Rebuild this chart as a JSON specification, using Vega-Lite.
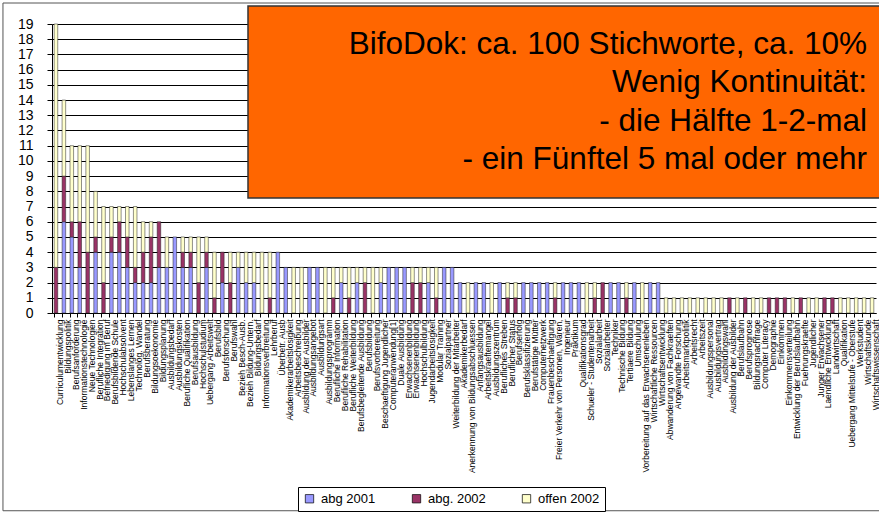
{
  "$schema": "https://vega.github.io/schema/vega-lite/v6.json",
  "width": 827,
  "height": 289,
  "autosize": "none",
  "padding": {"left": 52, "top": 24, "right": 0, "bottom": 201},
  "background": "white",
  "config": {
    "view": {"stroke": null},
    "font": "Liberation Sans",
    "axis": {"labelFont": "Liberation Sans", "labelColor": "black", "domainColor": "black", "tickColor": "black", "title": null},
    "legend": {"labelFont": "Liberation Sans", "labelColor": "black"}
  },
  "datasets": {
    "counts": [
      {"k": "Curriculumentwicklung", "abg 2001": 0, "abg. 2002": 3, "offen 2002": 16},
      {"k": "Bildungspolitik", "abg 2001": 6, "abg. 2002": 3, "offen 2002": 5},
      {"k": "Berufsanforderung", "abg 2001": 5, "abg. 2002": 1, "offen 2002": 5},
      {"k": "Informationstechnologie", "abg 2001": 3, "abg. 2002": 3, "offen 2002": 5},
      {"k": "Neue Technologien", "abg 2001": 0, "abg. 2002": 4, "offen 2002": 7},
      {"k": "Berufliche Integration", "abg 2001": 4, "abg. 2002": 1, "offen 2002": 3},
      {"k": "Befriedigung im Beruf", "abg 2001": 0, "abg. 2002": 2, "offen 2002": 5},
      {"k": "Berufsbildende Schule", "abg 2001": 4, "abg. 2002": 1, "offen 2002": 2},
      {"k": "Hochschulabsolvent", "abg 2001": 4, "abg. 2002": 2, "offen 2002": 1},
      {"k": "Lebenslanges Lernen", "abg 2001": 3, "abg. 2002": 2, "offen 2002": 2},
      {"k": "Technolog. Wandel", "abg 2001": 2, "abg. 2002": 1, "offen 2002": 4},
      {"k": "Berufsberatung", "abg 2001": 2, "abg. 2002": 2, "offen 2002": 2},
      {"k": "Bildungsoekonomie", "abg 2001": 2, "abg. 2002": 3, "offen 2002": 1},
      {"k": "Bildungsplanung", "abg 2001": 3, "abg. 2002": 3, "offen 2002": 0},
      {"k": "Ausbildungsbedarf", "abg 2001": 3, "abg. 2002": 0, "offen 2002": 2},
      {"k": "Ausbildungskosten", "abg 2001": 5, "abg. 2002": 0, "offen 2002": 0},
      {"k": "Berufliche Qualifikation", "abg 2001": 3, "abg. 2002": 1, "offen 2002": 1},
      {"k": "Berufsausbildung", "abg 2001": 3, "abg. 2002": 1, "offen 2002": 1},
      {"k": "Hochschulstudium", "abg 2001": 0, "abg. 2002": 2, "offen 2002": 3},
      {"k": "Uebergang Arbeitswelt", "abg 2001": 3, "abg. 2002": 1, "offen 2002": 1},
      {"k": "Berufsbild", "abg 2001": 0, "abg. 2002": 1, "offen 2002": 3},
      {"k": "Berufsforschung", "abg 2001": 2, "abg. 2002": 2, "offen 2002": 0},
      {"k": "Berufswahl", "abg 2001": 0, "abg. 2002": 2, "offen 2002": 2},
      {"k": "Bezieh Besch-Ausb.", "abg 2001": 3, "abg. 2002": 0, "offen 2002": 1},
      {"k": "Bezieh Bildung-Untern.", "abg 2001": 2, "abg. 2002": 0, "offen 2002": 2},
      {"k": "Bildungsbedarf", "abg 2001": 2, "abg. 2002": 0, "offen 2002": 2},
      {"k": "Informationsverbreitung", "abg 2001": 0, "abg. 2002": 0, "offen 2002": 4},
      {"k": "Lehrberuf", "abg 2001": 0, "abg. 2002": 1, "offen 2002": 3},
      {"k": "Überbetr. Ausb", "abg 2001": 4, "abg. 2002": 0, "offen 2002": 0},
      {"k": "Akademikerarbeitslosigkeit", "abg 2001": 3, "abg. 2002": 0, "offen 2002": 0},
      {"k": "Arbeitsbeschreibung", "abg 2001": 0, "abg. 2002": 0, "offen 2002": 3},
      {"k": "Ausbildung der Ausbilder", "abg 2001": 0, "abg. 2002": 0, "offen 2002": 3},
      {"k": "Ausbildungsangebot", "abg 2001": 3, "abg. 2002": 0, "offen 2002": 0},
      {"k": "Ausbildungsart", "abg 2001": 3, "abg. 2002": 0, "offen 2002": 0},
      {"k": "Ausbildungsprogramm", "abg 2001": 0, "abg. 2002": 0, "offen 2002": 3},
      {"k": "Berufliche Information", "abg 2001": 0, "abg. 2002": 1, "offen 2002": 2},
      {"k": "Berufliche Rehabilitation", "abg 2001": 2, "abg. 2002": 0, "offen 2002": 1},
      {"k": "Berufliche Weiterbildung", "abg 2001": 0, "abg. 2002": 1, "offen 2002": 2},
      {"k": "Berufsbegleitende Ausbildung", "abg 2001": 2, "abg. 2002": 0, "offen 2002": 1},
      {"k": "Berufsbildung", "abg 2001": 0, "abg. 2002": 2, "offen 2002": 1},
      {"k": "Berufsvorbereitung", "abg 2001": 0, "abg. 2002": 0, "offen 2002": 3},
      {"k": "Beschaeftigung Jugendlicher", "abg 2001": 2, "abg. 2002": 0, "offen 2002": 1},
      {"k": "Computeranwendung[1]", "abg 2001": 3, "abg. 2002": 0, "offen 2002": 0},
      {"k": "Duale Ausbildung", "abg 2001": 3, "abg. 2002": 0, "offen 2002": 0},
      {"k": "Erwachsenenbildung", "abg 2001": 3, "abg. 2002": 0, "offen 2002": 0},
      {"k": "Erwachsenenbildung ", "abg 2001": 0, "abg. 2002": 2, "offen 2002": 1},
      {"k": "Hochschulbildung", "abg 2001": 0, "abg. 2002": 2, "offen 2002": 1},
      {"k": "Jugendarbeitslosigkeit", "abg 2001": 2, "abg. 2002": 0, "offen 2002": 1},
      {"k": "Modular Training", "abg 2001": 0, "abg. 2002": 1, "offen 2002": 2},
      {"k": "Sozialpartner", "abg 2001": 3, "abg. 2002": 0, "offen 2002": 0},
      {"k": "Weiterbildung der Mitarbeiter", "abg 2001": 3, "abg. 2002": 0, "offen 2002": 0},
      {"k": "Akademikerbedarf", "abg 2001": 2, "abg. 2002": 0, "offen 2002": 0},
      {"k": "Anerkennung von Bildungsabschluessen", "abg 2001": 0, "abg. 2002": 0, "offen 2002": 2},
      {"k": "Anfangsausbildung", "abg 2001": 2, "abg. 2002": 0, "offen 2002": 0},
      {"k": "Arbeitskraeftemangel", "abg 2001": 2, "abg. 2002": 0, "offen 2002": 0},
      {"k": "Ausbildungszentrum", "abg 2001": 0, "abg. 2002": 0, "offen 2002": 2},
      {"k": "Berufliches Streben", "abg 2001": 2, "abg. 2002": 0, "offen 2002": 0},
      {"k": "Beruflicher Status", "abg 2001": 0, "abg. 2002": 1, "offen 2002": 1},
      {"k": "Berufserfolg", "abg 2001": 0, "abg. 2002": 1, "offen 2002": 1},
      {"k": "Berufsklassifizierung", "abg 2001": 2, "abg. 2002": 0, "offen 2002": 0},
      {"k": "Berufstätige Mütter", "abg 2001": 2, "abg. 2002": 0, "offen 2002": 0},
      {"k": "Computernetzwerk", "abg 2001": 2, "abg. 2002": 0, "offen 2002": 0},
      {"k": "Frauenbeschaeftigung", "abg 2001": 2, "abg. 2002": 0, "offen 2002": 0},
      {"k": "Freier Verkehr von Personen, Waren,", "abg 2001": 0, "abg. 2002": 1, "offen 2002": 1},
      {"k": "Ingenieur", "abg 2001": 2, "abg. 2002": 0, "offen 2002": 0},
      {"k": "Praktikum", "abg 2001": 2, "abg. 2002": 0, "offen 2002": 0},
      {"k": "Qualifikationsgrad", "abg 2001": 2, "abg. 2002": 0, "offen 2002": 0},
      {"k": "Schueler - Studentenarbeit", "abg 2001": 0, "abg. 2002": 0, "offen 2002": 2},
      {"k": "Sozialarbeit", "abg 2001": 0, "abg. 2002": 1, "offen 2002": 1},
      {"k": "Sozialarbeiter", "abg 2001": 0, "abg. 2002": 2, "offen 2002": 0},
      {"k": "Techniker", "abg 2001": 2, "abg. 2002": 0, "offen 2002": 0},
      {"k": "Technische Bildung", "abg 2001": 2, "abg. 2002": 0, "offen 2002": 0},
      {"k": "Tertiaere Bildung", "abg 2001": 0, "abg. 2002": 1, "offen 2002": 1},
      {"k": "Umschulung", "abg 2001": 2, "abg. 2002": 0, "offen 2002": 0},
      {"k": "Vorbereitung auf das Erwachsenenleben", "abg 2001": 0, "abg. 2002": 0, "offen 2002": 2},
      {"k": "Wirtschaftliche Ressourcen", "abg 2001": 2, "abg. 2002": 0, "offen 2002": 0},
      {"k": "Wirtschaftsentwicklung", "abg 2001": 2, "abg. 2002": 0, "offen 2002": 0},
      {"k": "Abwanderung von Fachkraeften", "abg 2001": 0, "abg. 2002": 0, "offen 2002": 1},
      {"k": "Angewandte Forschung", "abg 2001": 0, "abg. 2002": 0, "offen 2002": 1},
      {"k": "Arbeitsmarktpolitik", "abg 2001": 0, "abg. 2002": 0, "offen 2002": 1},
      {"k": "Arbeitsrecht", "abg 2001": 0, "abg. 2002": 0, "offen 2002": 1},
      {"k": "Arbeitszeit", "abg 2001": 0, "abg. 2002": 0, "offen 2002": 1},
      {"k": "Ausbildungspersonal", "abg 2001": 0, "abg. 2002": 0, "offen 2002": 1},
      {"k": "Ausbildungsvertrag", "abg 2001": 0, "abg. 2002": 0, "offen 2002": 1},
      {"k": "Ausbildungswahl", "abg 2001": 0, "abg. 2002": 0, "offen 2002": 1},
      {"k": "Ausbildung der Ausbilder ", "abg 2001": 0, "abg. 2002": 1, "offen 2002": 0},
      {"k": "Berufslaufbahn", "abg 2001": 0, "abg. 2002": 0, "offen 2002": 1},
      {"k": "Berufsprognose", "abg 2001": 0, "abg. 2002": 1, "offen 2002": 0},
      {"k": "Bildungsnachfrage", "abg 2001": 0, "abg. 2002": 0, "offen 2002": 1},
      {"k": "Computer Literacy", "abg 2001": 0, "abg. 2002": 0, "offen 2002": 1},
      {"k": "Demographie", "abg 2001": 0, "abg. 2002": 1, "offen 2002": 0},
      {"k": "Einkommen", "abg 2001": 0, "abg. 2002": 1, "offen 2002": 0},
      {"k": "Einkommensverteilung", "abg 2001": 0, "abg. 2002": 1, "offen 2002": 0},
      {"k": "Entwicklung der Berufslaufbahn", "abg 2001": 0, "abg. 2002": 0, "offen 2002": 1},
      {"k": "Fuehrungskraefte", "abg 2001": 0, "abg. 2002": 1, "offen 2002": 0},
      {"k": "Jugendlicher", "abg 2001": 0, "abg. 2002": 0, "offen 2002": 1},
      {"k": "Junger Erwachsener", "abg 2001": 0, "abg. 2002": 0, "offen 2002": 1},
      {"k": "Laendliche Entwicklung", "abg 2001": 0, "abg. 2002": 1, "offen 2002": 0},
      {"k": "Landwirtschaft", "abg 2001": 0, "abg. 2002": 1, "offen 2002": 0},
      {"k": "Qualifikation", "abg 2001": 0, "abg. 2002": 0, "offen 2002": 1},
      {"k": "Uebergang Mittelstufe - Oberstufe", "abg 2001": 0, "abg. 2002": 0, "offen 2002": 1},
      {"k": "Werkstudent", "abg 2001": 0, "abg. 2002": 0, "offen 2002": 1},
      {"k": "Wirtschaftskunde", "abg 2001": 0, "abg. 2002": 0, "offen 2002": 1},
      {"k": "Wirtschaftswissenschaft", "abg 2001": 0, "abg. 2002": 0, "offen 2002": 1}
    ],
    "note": [
      {"text": "BifoDok: ca. 100 Stichworte, ca. 10%\nWenig Kontinuität:\n- die Hälfte 1-2-mal\n- ein Fünftel 5 mal oder mehr"}
    ]
  },
  "resolve": {"scale": {"x": "independent", "y": "independent"}},
  "layer": [
    {
      "data": {"name": "counts"},
      "transform": [
        {"fold": ["abg 2001", "abg\\. 2002", "offen 2002"], "as": ["s", "v"]},
        {"filter": "datum.v > 0"}
      ],
      "mark": {"type": "bar", "stroke": "#222", "strokeWidth": 0.5},
      "encoding": {
        "x": {
          "field": "k", "type": "nominal", "sort": null,
          "scale": {"range": [0, 824], "paddingInner": 0.55, "paddingOuter": 0.275},
          "axis": {"labelAngle": -90, "labelFontSize": 8.5, "labelPadding": 2, "tickSize": 4, "bandPosition": 0, "labelOffset": 3.96, "labelOverlap": false, "labelLimit": 300, "labelBound": false, "title": null}
        },
        "y": {
          "field": "v", "type": "quantitative", "stack": "zero",
          "scale": {"domain": [0, 19], "nice": false},
          "axis": {"values": [0,1,2,3,4,5,6,7,8,9,10,11,12,13,14,15,16,17,18,19], "labelFontSize": 14, "tickSize": 5, "labelPadding": 14, "grid": true, "gridColor": "black", "gridOpacity": 1, "gridWidth": 1, "labelOverlap": false, "title": null}
        },
        "color": {
          "field": "s", "type": "nominal",
          "scale": {"domain": ["abg 2001", "abg. 2002", "offen 2002"], "range": ["#9999FF", "#993366", "#FFFFCC"]},
          "legend": {"orient": "none", "legendX": 246, "legendY": 463, "direction": "horizontal", "title": null, "labelFontSize": 13, "symbolType": "square", "symbolSize": 70, "symbolStrokeColor": "black", "symbolStrokeWidth": 0.7, "strokeColor": "black", "fillColor": "white", "padding": 5, "columnPadding": 34, "labelOffset": 5}
        },
        "order": {"field": "s", "sort": "ascending"}
      }
    },
    {
      "data": {"values": [{}]},
      "mark": {"type": "rect", "fill": "none", "stroke": "#555", "strokeWidth": 1},
      "encoding": {
        "x": {"datum": -0.0593, "type": "quantitative", "scale": {"domain": [0, 1], "nice": false, "zero": false}, "axis": null},
        "x2": {"datum": 1.02},
        "y": {"datum": 20.38, "type": "quantitative", "scale": {"domain": [0, 19], "nice": false, "zero": false}, "axis": null},
        "y2": {"datum": -13.0}
      }
    },
    {
      "data": {"values": [{}]},
      "mark": {"type": "rect", "fill": "#FF6600", "stroke": "#333", "strokeWidth": 1.5},
      "encoding": {
        "x": {"datum": 0.237, "type": "quantitative", "scale": {"domain": [0, 1], "nice": false, "zero": false}, "axis": null},
        "x2": {"datum": 1.05},
        "y": {"datum": 20.18, "type": "quantitative", "scale": {"domain": [0, 19], "nice": false, "zero": false}, "axis": null},
        "y2": {"datum": 7.56}
      }
    },
    {
      "data": {"name": "note"},
      "mark": {"type": "text", "align": "right", "baseline": "middle", "lineBreak": "\n", "lineHeight": 38.5, "fontSize": 31.5, "font": "Liberation Sans", "color": "black"},
      "encoding": {
        "x": {"datum": 0.9855, "type": "quantitative", "scale": {"domain": [0, 1], "nice": false, "zero": false}, "axis": null},
        "y": {"datum": 17.62, "type": "quantitative", "scale": {"domain": [0, 19], "nice": false, "zero": false}, "axis": null},
        "text": {"field": "text"}
      }
    }
  ]
}
